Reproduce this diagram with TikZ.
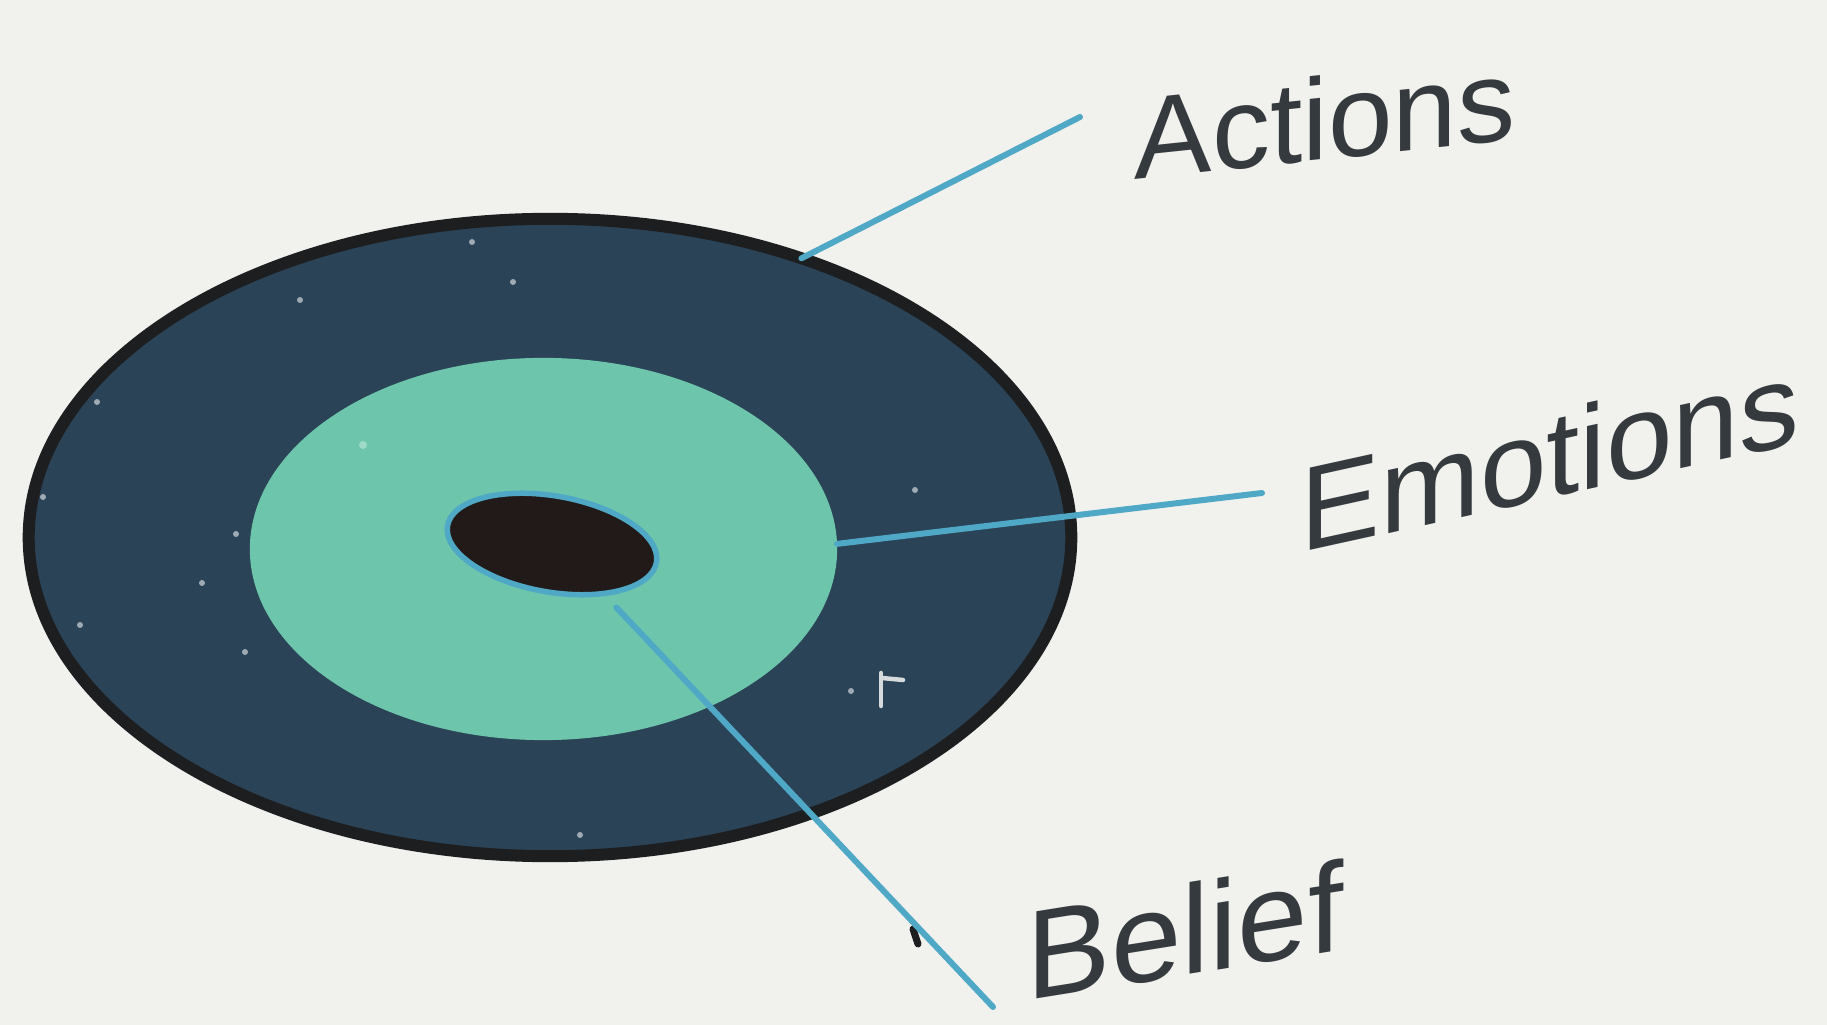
\documentclass[tikz,border=0pt]{standalone}
\usepackage{fontspec}
\setmainfont{Liberation Sans}
\usetikzlibrary{shapes.geometric}
\definecolor{bg}{HTML}{F1F2EE}
\definecolor{ring}{HTML}{2B4356}
\definecolor{rimblack}{HTML}{1C1E20}
\definecolor{mint}{HTML}{6DC6AB}
\definecolor{coredark}{HTML}{221A18}
\definecolor{leader}{HTML}{4FA8C6}
\definecolor{ink}{HTML}{353A3E}
\begin{document}
\begin{tikzpicture}[x=0.01cm,y=-0.01cm,
  oval/.style={ellipse, inner sep=0pt, outer sep=0pt},
  leaderline/.style={draw=leader, line width=0.06cm, line cap=round},
  handtext/.style={text=ink, inner sep=0pt},
  speck/.style={fill=white, opacity=0.55}]
\useasboundingbox[fill=bg] (0,0) rectangle (1827,1025);

% rings
\node[oval, draw=rimblack, fill=ring, line width=0.12cm,
      minimum width=10.42cm, minimum height=6.37cm] (outer) at (550,537.5) {};
\node[oval, fill=mint, minimum width=5.87cm, minimum height=3.82cm] (emo) at (543.5,549) {};
\node[oval, fill=coredark, draw=leader, line width=0.055cm,
      minimum width=2.12cm, minimum height=0.96cm, rotate=-10] (core) at (552,544) {};

% speckles
\foreach \p in {(97,402),(472,242),(513,282),(43,497),(80,625),(236,534),(245,652),(202,583),(851,691),(580,835),(915,490),(300,300)}
  \fill[speck] \p circle[radius=3];
\fill[white, opacity=0.35] (363,445) circle[radius=4];
\draw[white!80!ring, line width=0.045cm, line cap=round] (881,706) -- (881,673);
\draw[white!80!ring, line width=0.045cm, line cap=round] (882,678) -- (903,680);

% small ink mark
\draw[rimblack, line width=0.07cm, line cap=round] (913,929) -- (918,944);

% leader lines
\coordinate (aEnd) at (1080,117);
\coordinate (eEnd) at (1262,493);
\coordinate (bEnd) at (993,1007);
\draw[leaderline] (outer.48) -- (aEnd);
\draw[leaderline] (emo.1) -- (eEnd);
\draw[leaderline, shorten <=0.19cm] (core.-34) -- (bEnd);

% labels
\node[handtext, yslant=0.105, font=\fontsize{33}{38}\selectfont] (actions) at (1325,118) {Actions};
\node[handtext, yslant=0.22, font=\fontsize{34}{38}\selectfont] (emotions) at (1550,455) {Emotions};
\node[handtext, yslant=0.16, font=\fontsize{36}{40}\selectfont] (belief) at (1185,930) {Belief};
\end{tikzpicture}
\end{document}
